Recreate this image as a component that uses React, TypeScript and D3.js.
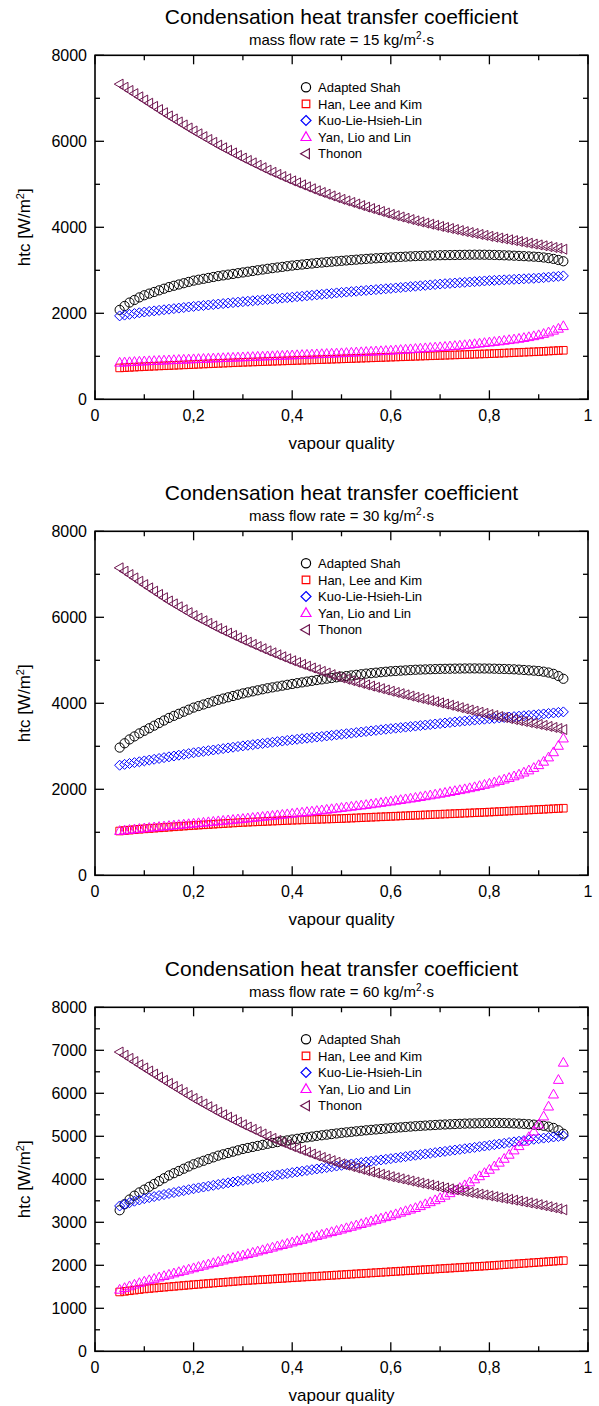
import React from 'react';
import * as d3 from 'd3';

// ---------- data ----------
const QUALITY: number[] = d3.range(91).map((i) => +(0.05 + i * 0.01).toFixed(2));
const SERIES_NAMES = ['Adapted Shah', 'Han, Lee and Kim', 'Kuo-Lie-Hsieh-Lin', 'Yan, Lio and Lin', 'Thonon'];
const MASS_FLOWS = [15, 30, 60];
const X_TICKS = [0, 0.2, 0.4, 0.6, 0.8, 1];
const X_TICK_LABELS = ['0', '0,2', '0,4', '0,6', '0,8', '1'];
const X_MINOR = [0.1, 0.3, 0.5, 0.7, 0.9];
const Y_TICKS_COARSE = [0, 2000, 4000, 6000, 8000];
const Y_MINOR_COARSE = [1000, 3000, 5000, 7000];
const Y_TICKS_FINE = [0, 1000, 2000, 3000, 4000, 5000, 6000, 7000, 8000];
const Y_MINOR_FINE = [500, 1500, 2500, 3500, 4500, 5500, 6500, 7500];

// G = 15
const shah15 = [2080, 2170, 2250, 2310, 2370, 2420, 2458, 2496, 2534, 2572, 2610, 2640, 2670, 2700, 2730, 2760, 2781, 2802, 2823, 2844, 2865, 2882, 2899, 2916, 2933, 2950, 2967, 2984, 3001, 3018, 3035, 3050, 3065, 3080, 3095, 3110, 3122, 3134, 3146, 3158, 3170, 3180, 3190, 3200, 3210, 3220, 3229, 3238, 3247, 3256, 3265, 3272, 3279, 3286, 3293, 3300, 3306, 3312, 3318, 3324, 3330, 3334, 3338, 3342, 3346, 3350, 3352, 3354, 3356, 3358, 3360, 3362, 3363, 3363, 3362, 3360, 3357, 3353, 3349, 3345, 3340, 3335, 3329, 3323, 3317, 3310, 3298, 3283, 3265, 3240, 3210];
const han15 = [730, 736, 742, 748, 754, 760, 765, 770, 775, 780, 785, 790, 795, 800, 805, 810, 815, 820, 825, 830, 835, 840, 845, 850, 855, 860, 864, 868, 872, 876, 880, 884, 888, 892, 896, 900, 904, 908, 912, 916, 920, 924, 928, 932, 936, 940, 944, 948, 952, 956, 960, 964, 968, 972, 976, 980, 984, 988, 992, 996, 1000, 1004, 1008, 1012, 1016, 1020, 1024, 1028, 1032, 1036, 1040, 1044, 1048, 1052, 1056, 1060, 1065, 1070, 1075, 1080, 1085, 1090, 1095, 1100, 1105, 1110, 1116, 1122, 1128, 1134, 1140];
const kuo15 = [1940, 1958, 1976, 1994, 2012, 2030, 2043, 2056, 2069, 2082, 2095, 2108, 2121, 2134, 2147, 2160, 2171, 2182, 2193, 2204, 2215, 2226, 2237, 2248, 2259, 2270, 2280, 2291, 2301, 2312, 2322, 2333, 2343, 2354, 2364, 2375, 2386, 2397, 2408, 2419, 2430, 2441, 2452, 2463, 2474, 2485, 2494, 2504, 2513, 2523, 2532, 2542, 2551, 2561, 2570, 2580, 2590, 2600, 2610, 2620, 2630, 2640, 2650, 2660, 2670, 2680, 2688, 2696, 2704, 2712, 2720, 2728, 2736, 2744, 2752, 2760, 2766, 2772, 2778, 2784, 2790, 2796, 2802, 2808, 2814, 2820, 2830, 2840, 2850, 2860, 2870];
const yan15 = [850, 856, 862, 868, 874, 880, 885, 890, 895, 900, 905, 910, 915, 920, 925, 930, 935, 939, 944, 948, 953, 957, 962, 966, 971, 975, 980, 984, 989, 993, 998, 1002, 1007, 1011, 1016, 1020, 1025, 1030, 1035, 1040, 1045, 1050, 1055, 1060, 1065, 1070, 1076, 1082, 1088, 1094, 1100, 1106, 1112, 1118, 1124, 1130, 1138, 1146, 1154, 1162, 1170, 1178, 1186, 1194, 1202, 1210, 1219, 1229, 1238, 1248, 1258, 1270, 1282, 1295, 1307, 1320, 1333, 1346, 1360, 1375, 1390, 1406, 1424, 1444, 1466, 1490, 1520, 1555, 1595, 1640, 1700];
const thonon15 = [7330, 7256, 7182, 7108, 7034, 6960, 6886, 6812, 6738, 6664, 6590, 6520, 6450, 6380, 6310, 6240, 6174, 6108, 6042, 5976, 5910, 5850, 5790, 5730, 5670, 5610, 5554, 5498, 5442, 5386, 5330, 5280, 5230, 5180, 5130, 5080, 5034, 4988, 4942, 4896, 4850, 4810, 4770, 4730, 4690, 4650, 4614, 4578, 4542, 4506, 4470, 4436, 4402, 4368, 4334, 4300, 4270, 4240, 4210, 4180, 4150, 4124, 4098, 4072, 4046, 4020, 3996, 3972, 3948, 3924, 3900, 3878, 3856, 3834, 3812, 3790, 3770, 3750, 3730, 3710, 3690, 3670, 3650, 3630, 3610, 3590, 3570, 3550, 3530, 3510, 3490];

// G = 30
const shah30 = [2970, 3070, 3160, 3230, 3300, 3360, 3420, 3480, 3540, 3600, 3660, 3708, 3756, 3804, 3852, 3900, 3936, 3972, 4008, 4044, 4080, 4110, 4140, 4170, 4200, 4230, 4254, 4278, 4302, 4326, 4350, 4370, 4390, 4410, 4430, 4450, 4468, 4486, 4504, 4522, 4540, 4556, 4572, 4588, 4604, 4620, 4634, 4648, 4662, 4676, 4690, 4701, 4712, 4723, 4734, 4745, 4752, 4759, 4766, 4773, 4780, 4784, 4788, 4792, 4796, 4800, 4802, 4804, 4806, 4808, 4810, 4811, 4811, 4810, 4809, 4808, 4805, 4801, 4798, 4794, 4790, 4783, 4775, 4767, 4759, 4750, 4735, 4715, 4685, 4635, 4570];
const han30 = [1030, 1040, 1050, 1060, 1070, 1080, 1088, 1096, 1104, 1112, 1120, 1128, 1136, 1144, 1152, 1160, 1167, 1174, 1181, 1188, 1195, 1202, 1209, 1216, 1223, 1230, 1235, 1240, 1245, 1250, 1255, 1260, 1265, 1270, 1275, 1280, 1284, 1288, 1292, 1296, 1300, 1304, 1308, 1312, 1316, 1320, 1325, 1330, 1335, 1340, 1345, 1350, 1355, 1360, 1365, 1370, 1375, 1380, 1385, 1390, 1395, 1400, 1405, 1410, 1415, 1420, 1425, 1430, 1435, 1440, 1445, 1450, 1455, 1460, 1465, 1470, 1476, 1482, 1488, 1494, 1500, 1506, 1512, 1518, 1524, 1530, 1536, 1542, 1548, 1554, 1560];
const kuo30 = [2560, 2580, 2600, 2620, 2640, 2660, 2679, 2698, 2717, 2736, 2755, 2774, 2793, 2812, 2831, 2850, 2866, 2882, 2898, 2914, 2930, 2946, 2962, 2978, 2994, 3010, 3024, 3038, 3052, 3066, 3080, 3094, 3108, 3122, 3136, 3150, 3163, 3176, 3189, 3202, 3215, 3228, 3241, 3254, 3267, 3280, 3293, 3306, 3319, 3332, 3345, 3358, 3371, 3384, 3397, 3410, 3422, 3434, 3446, 3458, 3470, 3482, 3494, 3506, 3518, 3530, 3542, 3554, 3566, 3578, 3590, 3600, 3610, 3620, 3630, 3640, 3650, 3660, 3670, 3680, 3690, 3700, 3710, 3720, 3730, 3740, 3752, 3764, 3776, 3788, 3800];
const yan30 = [1030, 1042, 1054, 1066, 1078, 1090, 1101, 1112, 1123, 1134, 1145, 1156, 1167, 1178, 1189, 1200, 1211, 1222, 1233, 1244, 1255, 1266, 1277, 1288, 1299, 1310, 1322, 1334, 1346, 1358, 1370, 1382, 1394, 1406, 1418, 1430, 1443, 1456, 1469, 1482, 1495, 1509, 1523, 1537, 1551, 1565, 1579, 1593, 1607, 1621, 1635, 1651, 1667, 1683, 1699, 1715, 1732, 1749, 1766, 1783, 1800, 1819, 1838, 1857, 1876, 1895, 1916, 1937, 1958, 1979, 2000, 2024, 2048, 2074, 2102, 2130, 2160, 2192, 2226, 2262, 2300, 2342, 2388, 2438, 2495, 2560, 2640, 2740, 2860, 3010, 3180];
const thonon30 = [7150, 7072, 6994, 6916, 6838, 6760, 6684, 6608, 6532, 6456, 6380, 6312, 6244, 6176, 6108, 6040, 5980, 5920, 5860, 5800, 5740, 5686, 5632, 5578, 5524, 5470, 5420, 5370, 5320, 5270, 5220, 5174, 5128, 5082, 5036, 4990, 4948, 4906, 4864, 4822, 4780, 4742, 4704, 4666, 4628, 4590, 4558, 4526, 4494, 4462, 4430, 4400, 4370, 4340, 4310, 4280, 4252, 4224, 4196, 4168, 4140, 4114, 4088, 4062, 4036, 4010, 3982, 3954, 3926, 3898, 3870, 3844, 3818, 3792, 3766, 3740, 3716, 3692, 3668, 3644, 3620, 3598, 3576, 3554, 3532, 3510, 3486, 3462, 3438, 3414, 3390];

// G = 60
const shah60 = [3280, 3420, 3530, 3620, 3695, 3760, 3826, 3892, 3958, 4024, 4090, 4142, 4194, 4246, 4298, 4350, 4390, 4430, 4470, 4510, 4550, 4581, 4612, 4643, 4674, 4705, 4729, 4753, 4777, 4801, 4825, 4845, 4865, 4885, 4905, 4925, 4942, 4959, 4976, 4993, 5010, 5024, 5038, 5052, 5066, 5080, 5092, 5104, 5116, 5128, 5140, 5150, 5160, 5170, 5180, 5190, 5199, 5208, 5217, 5226, 5235, 5242, 5249, 5256, 5263, 5270, 5275, 5280, 5285, 5290, 5295, 5298, 5301, 5304, 5306, 5308, 5309, 5309, 5307, 5304, 5300, 5295, 5289, 5281, 5271, 5260, 5245, 5225, 5195, 5140, 5060];
const han60 = [1380, 1394, 1408, 1422, 1436, 1450, 1460, 1470, 1480, 1490, 1500, 1510, 1520, 1530, 1540, 1550, 1559, 1568, 1577, 1586, 1595, 1604, 1613, 1622, 1631, 1640, 1647, 1654, 1661, 1668, 1675, 1682, 1689, 1696, 1703, 1710, 1717, 1724, 1731, 1738, 1745, 1752, 1759, 1766, 1773, 1780, 1787, 1794, 1801, 1808, 1815, 1822, 1829, 1836, 1843, 1850, 1857, 1864, 1871, 1878, 1885, 1892, 1899, 1906, 1913, 1920, 1927, 1934, 1941, 1948, 1955, 1962, 1969, 1976, 1983, 1990, 1998, 2006, 2014, 2022, 2030, 2038, 2046, 2054, 2062, 2070, 2078, 2086, 2094, 2102, 2110];
const kuo60 = [3380, 3420, 3455, 3490, 3520, 3550, 3574, 3598, 3622, 3646, 3670, 3692, 3714, 3736, 3758, 3780, 3800, 3820, 3840, 3860, 3880, 3899, 3918, 3937, 3956, 3975, 3993, 4011, 4029, 4047, 4065, 4083, 4101, 4119, 4137, 4155, 4172, 4189, 4206, 4223, 4240, 4257, 4274, 4291, 4308, 4325, 4341, 4357, 4373, 4389, 4405, 4420, 4435, 4450, 4465, 4480, 4496, 4512, 4528, 4544, 4560, 4575, 4590, 4605, 4620, 4635, 4650, 4665, 4680, 4695, 4710, 4726, 4742, 4758, 4774, 4790, 4806, 4822, 4838, 4854, 4870, 4885, 4900, 4915, 4930, 4945, 4958, 4971, 4984, 4997, 5010];
const yan60 = [1430, 1470, 1510, 1548, 1585, 1620, 1652, 1684, 1716, 1748, 1780, 1810, 1840, 1870, 1900, 1930, 1960, 1990, 2020, 2050, 2080, 2110, 2140, 2170, 2200, 2230, 2260, 2290, 2320, 2350, 2380, 2410, 2440, 2470, 2500, 2530, 2560, 2590, 2620, 2650, 2680, 2710, 2740, 2770, 2800, 2830, 2862, 2894, 2926, 2958, 2990, 3022, 3054, 3086, 3118, 3150, 3186, 3222, 3258, 3294, 3330, 3374, 3420, 3466, 3512, 3560, 3618, 3676, 3736, 3798, 3860, 3928, 3998, 4070, 4144, 4220, 4300, 4385, 4475, 4570, 4670, 4770, 4870, 4980, 5110, 5270, 5460, 5690, 5970, 6310, 6710];
const thonon60 = [6960, 6886, 6812, 6738, 6664, 6590, 6518, 6446, 6374, 6302, 6230, 6160, 6090, 6020, 5950, 5880, 5816, 5752, 5688, 5624, 5560, 5502, 5444, 5386, 5328, 5270, 5216, 5162, 5108, 5054, 5000, 4952, 4904, 4856, 4808, 4760, 4717, 4674, 4631, 4588, 4545, 4508, 4471, 4434, 4397, 4360, 4328, 4296, 4264, 4232, 4200, 4172, 4144, 4116, 4088, 4060, 4035, 4010, 3985, 3960, 3935, 3912, 3889, 3866, 3843, 3820, 3799, 3778, 3757, 3736, 3715, 3695, 3675, 3655, 3635, 3615, 3595, 3575, 3555, 3535, 3515, 3494, 3473, 3452, 3431, 3410, 3386, 3362, 3338, 3314, 3290];

const PANEL_DATA = [
  [shah15, han15, kuo15, yan15, thonon15],
  [shah30, han30, kuo30, yan30, thonon30],
  [shah60, han60, kuo60, yan60, thonon60],
];

// ---------- style ----------
const FONT = '"Liberation Sans", Arial, Helvetica, sans-serif';
const COLORS = ['#000000', '#ff0000', '#0000ff', '#ff00ff', '#6e1650'];
const SHAPES = ['circle', 'square', 'diamond', 'triUp', 'triLeft'];
const W = 599;
const H = 1406;
const PLOT_LEFT = 95;
const PLOT_RIGHT = 588;
const PLOT_H = 344;
const PANEL_TOPS = [55.3, 531.3, 1007.3];

function markerPath(shape: string, x: number, y: number): string {
  const p = d3.path();
  if (shape === 'circle') {
    const r = 4.6;
    p.moveTo(x + r, y);
    p.arc(x, y, r, 0, Math.PI * 2);
  } else if (shape === 'square') {
    const h = 3.8;
    p.rect(x - h, y - h, 2 * h, 2 * h);
  } else if (shape === 'diamond') {
    const h = 5;
    p.moveTo(x, y - h);
    p.lineTo(x + h, y);
    p.lineTo(x, y + h);
    p.lineTo(x - h, y);
    p.closePath();
  } else if (shape === 'triUp') {
    p.moveTo(x, y - 5.4);
    p.lineTo(x + 5, y + 3.4);
    p.lineTo(x - 5, y + 3.4);
    p.closePath();
  } else {
    p.moveTo(x - 5.4, y);
    p.lineTo(x + 3.4, y - 5);
    p.lineTo(x + 3.4, y + 5);
    p.closePath();
  }
  return p.toString();
}

function Panel({ index }: { index: number }) {
  const top = PANEL_TOPS[index];
  const bottom = top + PLOT_H;
  const x = d3.scaleLinear().domain([0, 1]).range([PLOT_LEFT, PLOT_RIGHT]);
  const y = d3.scaleLinear().domain([0, 8000]).range([bottom, top]);
  const fine = index === 2;
  const yMajor = fine ? Y_TICKS_FINE : Y_TICKS_COARSE;
  const yMinor = fine ? Y_MINOR_FINE : Y_MINOR_COARSE;
  const data = PANEL_DATA[index];
  const cx = (PLOT_LEFT + PLOT_RIGHT) / 2;
  const cy = (top + bottom) / 2;
  const MAJ = 9;
  const MIN = 5;
  const legendX = 306;
  const legendY0 = top + 32;
  const legendDy = 16.6;

  return (
    <g>
      {/* titles */}
      <text x={cx} y={top - 31} textAnchor="middle" fontSize={21} fontFamily={FONT} fill="#000">
        Condensation heat transfer coefficient
      </text>
      <text x={cx} y={top - 10.5} textAnchor="middle" fontSize={15} fontFamily={FONT} fill="#000">
        {`mass flow rate = ${MASS_FLOWS[index]} kg/m`}
        <tspan fontSize={10} dy={-6}>2</tspan>
        <tspan dy={6}>·s</tspan>
      </text>

      {/* data markers */}
      {data.map((vals, si) => (
        <g key={si} fill="none" stroke={COLORS[si]} strokeWidth={1}>
          {vals.map((v, i) => (
            <path key={i} d={markerPath(SHAPES[si], x(QUALITY[i]), y(v))} />
          ))}
        </g>
      ))}

      {/* frame */}
      <rect x={PLOT_LEFT} y={top} width={PLOT_RIGHT - PLOT_LEFT} height={PLOT_H} fill="none" stroke="#000" strokeWidth={1.6} />

      {/* ticks */}
      <g stroke="#000" strokeWidth={1.3}>
        {X_TICKS.map((t) => (
          <g key={`xm${t}`}>
            <line x1={x(t)} x2={x(t)} y1={bottom} y2={bottom - MAJ} />
            <line x1={x(t)} x2={x(t)} y1={top} y2={top + MAJ} />
          </g>
        ))}
        {X_MINOR.map((t) => (
          <g key={`xn${t}`}>
            <line x1={x(t)} x2={x(t)} y1={bottom} y2={bottom - MIN} />
            <line x1={x(t)} x2={x(t)} y1={top} y2={top + MIN} />
          </g>
        ))}
        {yMajor.map((t) => (
          <g key={`ym${t}`}>
            <line x1={PLOT_LEFT} x2={PLOT_LEFT + MAJ} y1={y(t)} y2={y(t)} />
            <line x1={PLOT_RIGHT} x2={PLOT_RIGHT - MAJ} y1={y(t)} y2={y(t)} />
          </g>
        ))}
        {yMinor.map((t) => (
          <g key={`yn${t}`}>
            <line x1={PLOT_LEFT} x2={PLOT_LEFT + MIN} y1={y(t)} y2={y(t)} />
            <line x1={PLOT_RIGHT} x2={PLOT_RIGHT - MIN} y1={y(t)} y2={y(t)} />
          </g>
        ))}
      </g>

      {/* tick labels */}
      {X_TICKS.map((t, i) => (
        <text key={`xl${t}`} x={x(t)} y={bottom + 22} textAnchor="middle" fontSize={16} fontFamily={FONT} fill="#000">
          {X_TICK_LABELS[i]}
        </text>
      ))}
      {yMajor.map((t) => (
        <text key={`yl${t}`} x={87} y={y(t) + 6} textAnchor="end" fontSize={16} fontFamily={FONT} fill="#000">
          {String(t)}
        </text>
      ))}

      {/* axis labels */}
      <text x={cx} y={bottom + 50} textAnchor="middle" fontSize={17} fontFamily={FONT} fill="#000">
        vapour quality
      </text>
      <text
        transform={`translate(30,${cy}) rotate(-90)`}
        textAnchor="middle"
        fontSize={17}
        fontFamily={FONT}
        fill="#000"
      >
        htc [W/m<tspan fontSize={11} dy={-6}>2</tspan>
        <tspan dy={6}>]</tspan>
      </text>

      {/* legend */}
      {SERIES_NAMES.map((name, si) => {
        const ly = legendY0 + si * legendDy;
        return (
          <g key={name}>
            <path d={markerPath(SHAPES[si], legendX, ly)} fill="none" stroke={COLORS[si]} strokeWidth={1.2} />
            <text x={legendX + 12} y={ly + 4.6} fontSize={13} fontFamily={FONT} fill="#000">
              {name}
            </text>
          </g>
        );
      })}
    </g>
  );
}

export default function App() {
  return (
    <svg
      width={W}
      height={H}
      viewBox={`0 0 ${W} ${H}`}
      style={{ position: 'absolute', left: 0, top: 0, background: '#fff' }}
    >
      <rect x={0} y={0} width={W} height={H} fill="#fff" />
      {[0, 1, 2].map((i) => (
        <Panel key={i} index={i} />
      ))}
    </svg>
  );
}
